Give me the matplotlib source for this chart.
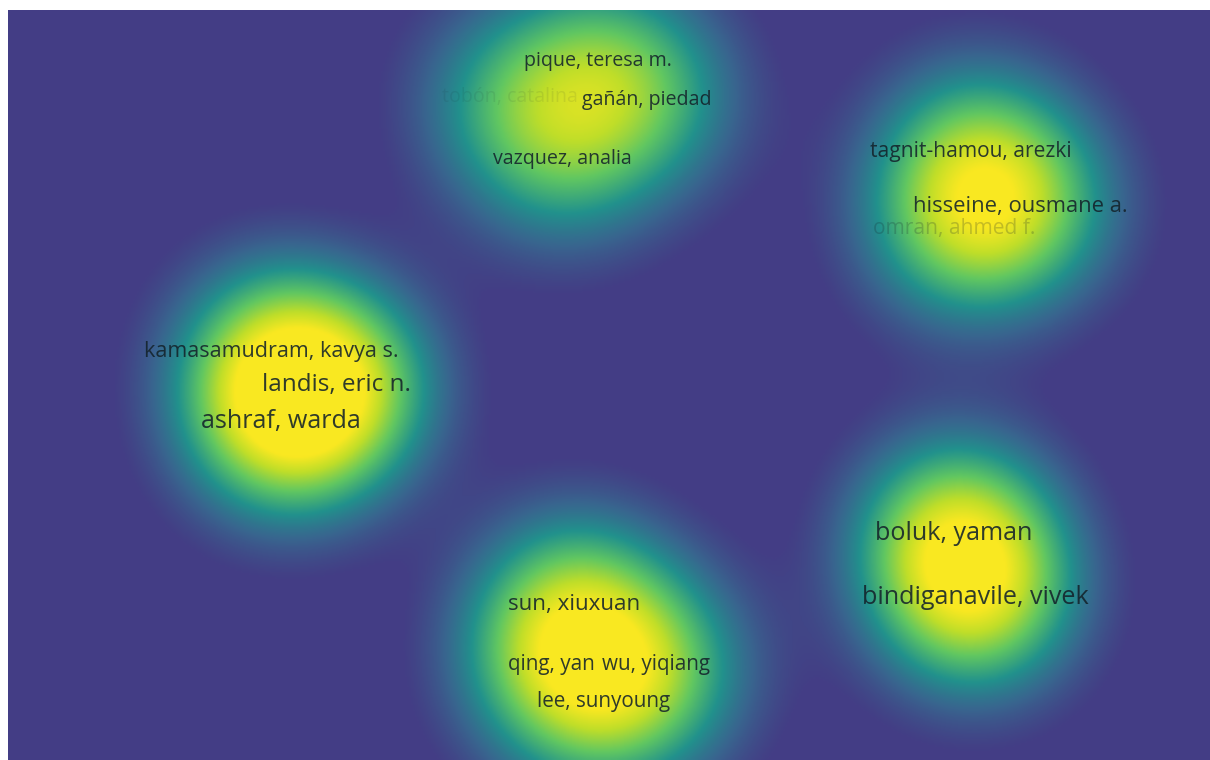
import matplotlib
matplotlib.use("Agg")
import matplotlib.pyplot as plt
import numpy as np
from matplotlib.colors import LinearSegmentedColormap

# items of the density map (label centre in map units, weight)
labels = ["pique, teresa m.", "gañán, piedad", "vazquez, analia", "tobón, catalina",
          "tagnit-hamou, arezki", "hisseine, ousmane a.", "omran, ahmed f.",
          "kamasamudram, kavya s.", "landis, eric n.", "ashraf, warda",
          "sun, xiuxuan", "qing, yan", "wu, yiqiang", "lee, sunyoung",
          "boluk, yaman", "bindiganavile, vivek"]
x = [598, 647, 562, 510, 971, 1020, 954, 271, 336, 281, 574, 551, 656, 604, 954, 975]
y = [61, 100, 159, 97, 151, 206, 228, 351, 385, 421, 604, 664, 664, 701, 533, 597]
weight = [3, 3, 3, 3, 3.7, 4.3, 3.7, 4, 5.5, 6, 4.5, 3.5, 3.5, 3.5, 6, 6]
# labels partly hidden behind others are drawn faded
label_visibility = [1, 1, 1, 0.1, 1, 1, 0.25, 1, 1, 1, 1, 1, 1, 1, 1, 1]

cmap = LinearSegmentedColormap.from_list("vos", [
    (0.0, (0.263, 0.243, 0.522)),
    (0.15, (0.22, 0.40, 0.56)),
    (0.33, (0.13, 0.57, 0.55)),
    (0.57, (0.38, 0.78, 0.38)),
    (0.80, (0.75, 0.87, 0.16)),
    (1.0, (0.98, 0.91, 0.13)),
])

W, H = 1210, 760
fig = plt.figure(figsize=(W / 100, H / 100), dpi=100)
fig.patch.set_facecolor("white")
ax = fig.add_axes([8 / W, 0, (W - 8) / W, (H - 10) / H])
ax.set_xlim(8, W)
ax.set_ylim(H, 10)
ax.axis("off")

gx, gy = np.meshgrid(np.arange(8, W, 2.0), np.arange(10, H, 2.0))
dens = np.zeros_like(gx)
sigma = 68.0
for xi, yi, wi in zip(x, y, weight):
    dens += wi * np.exp(-((gx - xi) ** 2 + (gy - yi) ** 2) / (2 * sigma ** 2))
dmin, dmax = 0.5, 9.0
ax.imshow(np.clip((dens - dmin) / (dmax - dmin), 0, 1), cmap=cmap, vmin=0, vmax=1,
          extent=(8, W, H, 10), interpolation="bilinear", aspect="auto")

for lab, xi, yi, wi, vis in zip(labels, x, y, weight, label_visibility):
    ax.text(xi, yi, lab, ha="center", va="center", fontsize=(8.5 + 1.1 * wi) * 1.2,
            family=["Open Sans", "DejaVu Sans"], color="#14232b",
            alpha=0.88 * vis)

fig.savefig("out.png", dpi=100)
